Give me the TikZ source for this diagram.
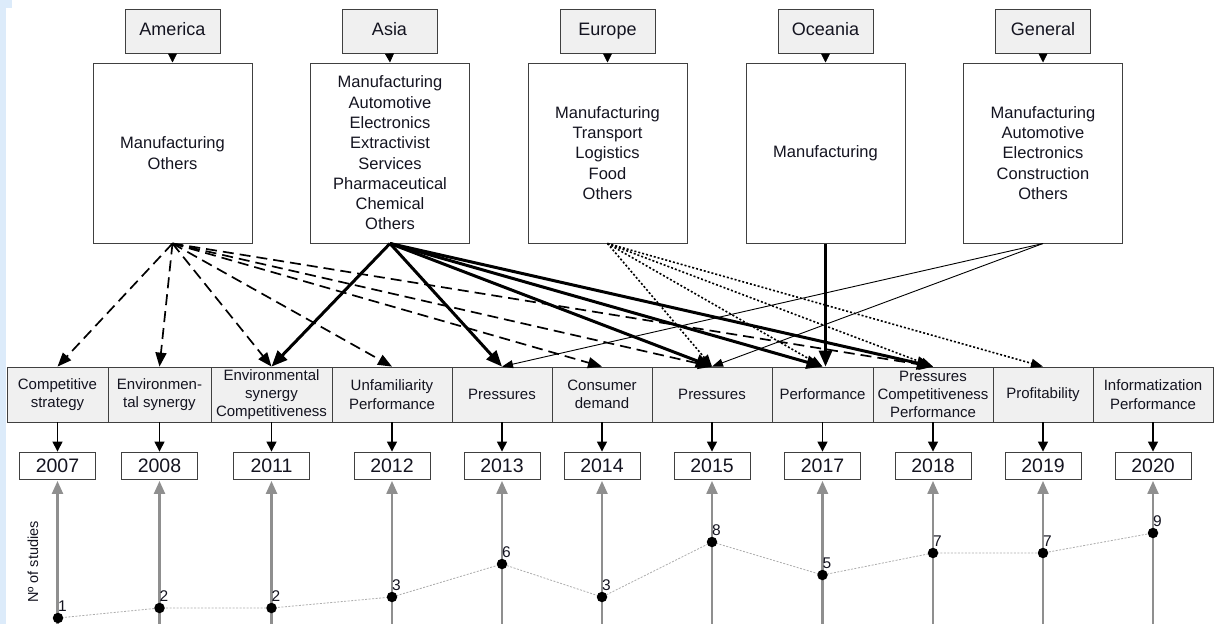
\documentclass[tikz,border=0pt]{standalone}
\usepackage{fontspec}
\setmainfont{Liberation Sans}
\usetikzlibrary{arrows.meta}
\definecolor{boxfill}{HTML}{F0F0F0}
\definecolor{edgegray}{HTML}{404040}
\definecolor{axisgray}{HTML}{8F8F8F}
\definecolor{bgblue}{HTML}{DCEBFA}
\definecolor{txt}{HTML}{141420}
\begin{document}
\begin{tikzpicture}[x=1pt, y=-1pt,
 every node/.style={text=txt},
 hdr/.style={draw=edgegray, fill=boxfill, line width=1pt, minimum width=95pt, minimum height=44pt, inner sep=0pt, text height=12.5pt, text depth=3.5pt, font=\fontsize{18}{20}\selectfont},
 sector/.style={draw=edgegray, fill=white, line width=1pt, minimum width=159pt, minimum height=180pt, inner sep=0pt, align=center, font=\fontsize{16.5}{20.3}\selectfont},
 cat/.style={draw=edgegray, fill=boxfill, line width=0.8pt, minimum height=55pt, inner sep=0pt, align=center, font=\fontsize{15}{18.3}\selectfont},
 yr/.style={draw=edgegray, fill=white, line width=0.9pt, minimum width=76pt, minimum height=27pt, inner sep=0pt, font=\fontsize{19.5}{20}\selectfont},
 datadot/.style={circle, fill=black, minimum size=10.5pt, inner sep=0pt},
 numlab/.style={font=\fontsize{15.5}{15.5}\selectfont, inner sep=1pt, anchor=south, xshift=4.5pt},
 hdrarrow/.style={-{Triangle[length=9pt,width=9pt]}, line width=0.8pt, black},
 dasharrow/.style={-{Triangle[length=14pt,width=11pt]}, line width=1.7pt, dash pattern=on 11pt off 6pt},
 thickarrow/.style={-{Triangle[length=16pt,width=13pt]}, line width=3pt},
 dotarrow/.style={-{Triangle[length=12pt,width=9pt]}, line width=1.6pt, dash pattern=on 2pt off 2pt},
 thinarrow/.style={-{Triangle[length=11pt,width=8pt]}, line width=0.9pt},
 yrarrow/.style={-{Triangle[length=10pt,width=10pt]}, line width=1.4pt},
 yaxisline/.style={-{Triangle[length=13pt,width=11pt]}, line width=2.2pt, draw=axisgray, color=axisgray, shorten >=1.5pt},
 trendline/.style={draw=black!32, line width=0.8pt, dash pattern=on 2pt off 1.5pt}]

\useasboundingbox (0,0) rectangle (1216,624);
\fill[white] (0,0) rectangle (1216,624);
\fill[bgblue] (0,0) rectangle (6,624);
\fill[bgblue] (0,0) rectangle (12,8);

% headers
\node[hdr] (hA) at (172.5,31) {America};
\node[hdr] (hB) at (389.5,31) {Asia};
\node[hdr] (hE) at (607.5,31) {Europe};
\node[hdr] (hO) at (825.5,31) {Oceania};
\node[hdr] (hG) at (1043,31) {General};

% sector boxes
\node[sector] (sA) at (172.5,153) {Manufacturing\\Others};
\node[sector] (sB) at (390,153) {Manufacturing\\Automotive\\Electronics\\Extractivist\\Services\\Pharmaceutical\\Chemical\\Others};
\node[sector] (sE) at (607.5,153) {Manufacturing\\Transport\\Logistics\\Food\\Others};
\node[sector] (sO) at (825.5,153) {Manufacturing};
\node[sector] (sG) at (1043,153) {Manufacturing\\Automotive\\Electronics\\Construction\\Others};

\foreach \h/\s in {hA/sA,hB/sB,hE/sE,hO/sO,hG/sG}
  \draw[hdrarrow] (\h.south) -- (\s.north);

% category boxes
\node[cat, minimum width=101pt] (c1) at (57.5,394.5) {Competitive\\strategy};
\node[cat, minimum width=103pt] (c2) at (159.5,394.5) {Environmen-\\tal synergy};
\node[cat, minimum width=121pt] (c3) at (271.5,394.5) {Environmental\\synergy\\Competitiveness};
\node[cat, minimum width=120pt] (c4) at (392,394.5) {Unfamiliarity\\Performance};
\node[cat, minimum width=100pt] (c5) at (502,394.5) {Pressures};
\node[cat, minimum width=100pt] (c6) at (602,394.5) {Consumer\\demand};
\node[cat, minimum width=120pt] (c7) at (712,394.5) {Pressures};
\node[cat, minimum width=101pt] (c8) at (822.5,394.5) {Performance};
\node[cat, minimum width=120pt] (c9) at (933,394.5) {Pressures\\Competitiveness\\Performance};
\node[cat, minimum width=100pt] (c10) at (1043,394.5) {Profitability};
\node[cat, minimum width=120pt] (c11) at (1153,394.5) {Informatization\\Performance};

% year boxes
\node[yr] (y1) at (57.5,465.5) {2007};
\node[yr] (y2) at (159.5,465.5) {2008};
\node[yr] (y3) at (271.5,465.5) {2011};
\node[yr] (y4) at (392,465.5) {2012};
\node[yr] (y5) at (502,465.5) {2013};
\node[yr] (y6) at (602,465.5) {2014};
\node[yr] (y7) at (712,465.5) {2015};
\node[yr] (y8) at (822.5,465.5) {2017};
\node[yr] (y9) at (933,465.5) {2018};
\node[yr] (y10) at (1043,465.5) {2019};
\node[yr] (y11) at (1153,465.5) {2020};

\foreach \i in {1,...,11}
  \draw[yrarrow] (c\i.south) -- (y\i.north);

% gray axes
\foreach \i in {1,...,11}{
  \coordinate (b\i) at ([yshift=-160pt]y\i.south);
  \draw[yaxisline] (b\i) -- (y\i.south);
}

% connectors: America (dashed)
\foreach \t in {c1,c2,c3,c4,c6,c7,c9}
  \draw[dasharrow] (sA.south) -- (\t.north);
% Asia (thick)
\foreach \t in {c3,c5,c7,c8,c9}
  \draw[thickarrow] (sB.south) -- (\t.north);
% Europe (dotted)
\foreach \t in {c7,c8,c9,c10}
  \draw[dotarrow] (sE.south) -- (\t.north);
% Oceania (thick)
\draw[thickarrow] (sO.south) -- (sO.south |- c8.north);
% General (thin)
\foreach \t in {c5,c7}
  \draw[thinarrow] (sG.south) -- (\t.north);

% trend
\coordinate (p1) at (58,618);
\coordinate (p2) at (159.5,608);
\coordinate (p3) at (271.5,608);
\coordinate (p4) at (392,597);
\coordinate (p5) at (502,564);
\coordinate (p6) at (602,597);
\coordinate (p7) at (712,542);
\coordinate (p8) at (822.5,575);
\coordinate (p9) at (933,553);
\coordinate (p10) at (1043,553);
\coordinate (p11) at (1153,533);
\draw[trendline] (p1) -- (p2) -- (p3) -- (p4) -- (p5) -- (p6) -- (p7) -- (p8) -- (p9) -- (p10) -- (p11);
\foreach \i/\n in {1/1,2/2,3/2,4/3,5/6,6/3,7/8,8/5,9/7,10/7,11/9}
  \node[datadot, label={[numlab]90:\n}] (d\i) at (p\i) {};

\node[rotate=90, font=\fontsize{14.5}{16}\selectfont] (ylab) at (33,562) {Nº of studies};
\end{tikzpicture}
\end{document}
